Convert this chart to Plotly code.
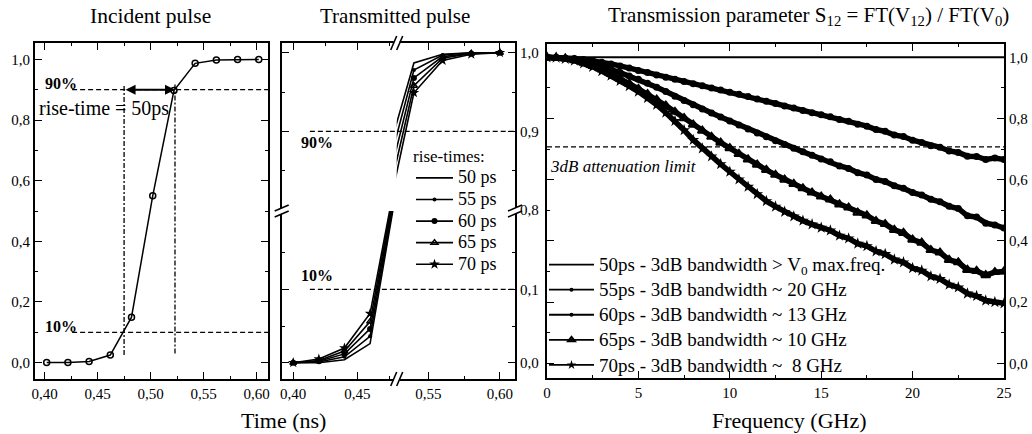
import plotly.graph_objects as go

W, H = 1032, 434
FONT = "Liberation Serif"

# ---------------- data ----------------
# Incident pulse (ns, normalized amplitude)
t_inc = [0.402, 0.422, 0.442, 0.462, 0.482, 0.502, 0.522, 0.542, 0.562, 0.582, 0.602]
v_inc = [0.000, 0.000, 0.004, 0.025, 0.150, 0.550, 0.897, 0.987, 0.998, 1.000, 1.000]
rise_lo, rise_hi = 0.475, 0.523
lvl10, lvl90 = 0.10, 0.90

# Transmitted pulses
t_tr = [0.40, 0.42, 0.44, 0.46, 0.48, 0.50, 0.52, 0.54, 0.56, 0.58, 0.60]
tr_50 = [0.000, 0.000, 0.004, 0.026, 0.230, 0.500, 0.860, 0.987, 0.998, 1.000, 1.000]
tr_55 = [0.000, 0.001, 0.008, 0.036, 0.235, 0.500, 0.840, 0.978, 0.997, 1.000, 1.000]
tr_60 = [0.000, 0.002, 0.012, 0.046, 0.240, 0.500, 0.820, 0.968, 0.995, 0.999, 1.000]
tr_65 = [0.000, 0.003, 0.016, 0.056, 0.245, 0.500, 0.800, 0.958, 0.993, 0.999, 1.000]
tr_70 = [0.000, 0.005, 0.020, 0.067, 0.250, 0.500, 0.780, 0.949, 0.990, 0.998, 1.000]

# Transmission parameter S12 (GHz)
f_ghz = [0.0, 0.5, 1.0, 1.5, 2.0, 2.5, 3.0, 3.5, 4.0, 4.5, 5.0, 5.5, 6.0, 6.5, 7.0, 7.5,
         8.0, 8.5, 9.0, 9.5, 10.0, 10.5, 11.0, 11.5, 12.0, 12.5, 13.0, 13.5, 14.0, 14.5,
         15.0, 15.5, 16.0, 16.5, 17.0, 17.5, 18.0, 18.5, 19.0, 19.5, 20.0, 20.5, 21.0,
         21.5, 22.0, 22.5, 23.0, 23.5, 24.0, 24.5, 25.0]
f_50 = [0.0, 25.0]
s_50 = [1.000, 1.000]
s_55 = [1.000, 1.000, 0.998, 0.996, 0.993, 0.989, 0.984, 0.978, 0.972, 0.965, 0.957, 0.950,
        0.942, 0.935, 0.928, 0.921, 0.914, 0.907, 0.900, 0.893, 0.886, 0.879, 0.872, 0.864,
        0.856, 0.849, 0.841, 0.834, 0.826, 0.819, 0.812, 0.806, 0.797, 0.791, 0.781, 0.775,
        0.764, 0.758, 0.746, 0.741, 0.729, 0.722, 0.711, 0.706, 0.694, 0.689, 0.677, 0.676,
        0.666, 0.671, 0.666]
s_60 = [1.000, 0.999, 0.997, 0.993, 0.987, 0.979, 0.970, 0.960, 0.950, 0.939, 0.928, 0.915,
        0.902, 0.888, 0.873, 0.859, 0.845, 0.831, 0.818, 0.805, 0.792, 0.779, 0.766, 0.753,
        0.740, 0.727, 0.715, 0.703, 0.691, 0.680, 0.668, 0.659, 0.645, 0.637, 0.623, 0.615,
        0.601, 0.594, 0.580, 0.572, 0.558, 0.550, 0.536, 0.528, 0.513, 0.506, 0.482, 0.478,
        0.458, 0.452, 0.442]
s_65 = [1.000, 0.999, 0.996, 0.990, 0.982, 0.972, 0.960, 0.946, 0.930, 0.914, 0.897, 0.880,
        0.862, 0.842, 0.822, 0.801, 0.780, 0.760, 0.740, 0.721, 0.703, 0.684, 0.666, 0.649,
        0.632, 0.616, 0.600, 0.586, 0.572, 0.558, 0.545, 0.535, 0.519, 0.509, 0.492, 0.483,
        0.465, 0.455, 0.436, 0.426, 0.404, 0.394, 0.370, 0.362, 0.338, 0.330, 0.305, 0.302,
        0.288, 0.298, 0.300]
s_70 = [1.000, 0.999, 0.995, 0.989, 0.980, 0.969, 0.955, 0.940, 0.923, 0.906, 0.888, 0.867,
        0.845, 0.819, 0.792, 0.762, 0.730, 0.702, 0.676, 0.651, 0.626, 0.601, 0.577, 0.553,
        0.530, 0.512, 0.495, 0.480, 0.466, 0.454, 0.443, 0.434, 0.417, 0.408, 0.391, 0.383,
        0.366, 0.357, 0.339, 0.330, 0.311, 0.303, 0.284, 0.276, 0.257, 0.248, 0.228, 0.220,
        0.205, 0.200, 0.196]
att_3db = 0.707

# tick labels
inc_xticks = [0.40, 0.45, 0.50, 0.55, 0.60]
inc_xlabels = ["0,40", "0,45", "0,50", "0,55", "0,60"]
inc_yticks = [0.0, 0.2, 0.4, 0.6, 0.8, 1.0]
inc_ylabels = ["0,0", "0,2", "0,4", "0,6", "0,8", "1,0"]
tr_xticks_lo, tr_xlabels_lo = [0.40, 0.45], ["0,40", "0,45"]
tr_xticks_hi, tr_xlabels_hi = [0.55, 0.60], ["0,55", "0,60"]
tr_yticks_lo, tr_ylabels_lo = [0.0, 0.1], ["0,0", "0,1"]
tr_yticks_hi, tr_ylabels_hi = [0.8, 0.9, 1.0], ["0,8", "0,9", "1,0"]
f_ticks = [0, 5, 10, 15, 20, 25]
f_labels = ["0", "5", "10", "15", "20", "25"]
s_ticks = [0.0, 0.2, 0.4, 0.6, 0.8, 1.0]
s_labels = ["0,0", "0,2", "0,4", "0,6", "0,8", "1,0"]


def px(x):
    return x / W


def py(y):
    return 1 - y / H


def big(s, size):
    return "<span style='font-size:%dpx'>%s</span>" % (size, s)


fig = go.Figure()

# ---------------- left panel ----------------
fig.add_trace(go.Scatter(
    x=t_inc, y=v_inc, xaxis="x", yaxis="y", mode="lines+markers", showlegend=False,
    line=dict(color="black", width=1.5),
    marker=dict(symbol="circle-open", size=6, color="black", line=dict(width=1.5))))

# ---------------- middle panel ----------------
tr_series = [
    ("50 ps", tr_50, "lines", None),
    ("55 ps", tr_55, "lines+markers", dict(symbol="circle", size=4)),
    ("60 ps", tr_60, "lines+markers", dict(symbol="circle", size=6)),
    ("65 ps", tr_65, "lines+markers", dict(symbol="triangle-up-open", size=6, line=dict(width=1.5))),
    ("70 ps", tr_70, "lines+markers", dict(symbol="star", size=8)),
]
for name, vals, md, mk in tr_series:
    for xa, ya, show in (("x2", "y2", True), ("x3", "y3", False)):
        kw = dict(x=t_tr, y=vals, xaxis=xa, yaxis=ya, name=big(name, 18), showlegend=show,
                  legend="legend", mode=md, line=dict(color="black", width=1.6))
        if mk is not None:
            m = dict(color="black")
            m.update(mk)
            kw["marker"] = m
        fig.add_trace(go.Scatter(**kw))

# helper traces so the mirrored broken-axis frames are drawn
for xa, ya in (("x5", "y3"), ("x6", "y3"), ("x2", "y5"), ("x2", "y6")):
    fig.add_trace(go.Scatter(x=[None], y=[None], xaxis=xa, yaxis=ya, mode="lines",
                             showlegend=False, hoverinfo="skip"))

# ---------------- right panel ----------------
s_series = [
    ("50ps - 3dB bandwidth > V<sub>0</sub> max.freq.", f_50, s_50, "lines", None, 2),
    ("55ps - 3dB bandwidth ~ 20 GHz", f_ghz, s_55, "lines+markers", dict(symbol="circle", size=7), 5.5),
    ("60ps - 3dB bandwidth ~ 13 GHz", f_ghz, s_60, "lines+markers", dict(symbol="circle", size=7), 5.5),
    ("65ps - 3dB bandwidth ~ 10 GHz", f_ghz, s_65, "lines+markers",
     dict(symbol="triangle-up-open", size=8, line=dict(width=2)), 5.5),
    ("70ps - 3dB bandwidth ~ \u00a08 GHz", f_ghz, s_70, "lines+markers", dict(symbol="star", size=9), 5.5),
]
legend_marker = {"circle": 4, "triangle-up-open": 6, "star": 7}
for name, fx, vals, md, mk, lw in s_series:
    kw = dict(x=fx, y=vals, xaxis="x4", yaxis="y4", mode=md, showlegend=False,
              line=dict(color="black", width=lw))
    lk = dict(x=[None], y=[None], xaxis="x4", yaxis="y4", mode=md, name=big(name, 19),
              legend="legend2", line=dict(color="black", width=1.8))
    if mk is not None:
        m = dict(color="black")
        m.update(mk)
        kw["marker"] = m
        lk["marker"] = dict(m, size=legend_marker[m["symbol"]])
    fig.add_trace(go.Scatter(**kw))
    fig.add_trace(go.Scatter(**lk))

# ---------------- axes ----------------
TICKFONT = dict(family=FONT, size=15, color="black")


def ax(domain, rng, **kw):
    d = dict(domain=domain, range=rng, showgrid=False, zeroline=False, showline=True,
             linecolor="black", linewidth=1.8, ticks="inside", ticklen=7, tickwidth=1.4,
             tickcolor="black", tickfont=TICKFONT, tickmode="array", fixedrange=True,
             automargin=False)
    d.update(kw)
    return d


def minor(vals, ln=3.5):
    return dict(ticks="inside", ticklen=ln, tickwidth=1.2, tickcolor="black",
                tickmode="array", tickvals=vals)


layout = dict(
    width=W, height=H, autosize=False,
    margin=dict(l=0, r=0, t=0, b=0, pad=0),
    paper_bgcolor="white", plot_bgcolor="rgba(0,0,0,0)",
    font=dict(family=FONT, color="black"),
)

# left
layout["xaxis"] = ax([px(35), px(268)], [0.391, 0.6107], anchor="y", mirror="ticks",
                     tickvals=inc_xticks, ticktext=inc_xlabels,
                     minor=minor([0.425, 0.475, 0.525, 0.575]))
layout["yaxis"] = ax([py(379), py(43)], [-0.054, 1.054], anchor="x", mirror="ticks",
                     tickvals=inc_yticks, ticktext=inc_ylabels,
                     minor=minor([0.1, 0.3, 0.5, 0.7, 0.9]))
# middle (broken axes)
xr_lo = [0.391, 0.4808]
xr_hi = [0.528, 0.6105]
yr_lo = [-0.0222, 0.2067]
yr_hi = [0.7989, 1.0123]
layout["xaxis2"] = ax([px(281.7), px(396.7)], xr_lo, anchor="y2",
                      tickvals=tr_xticks_lo, ticktext=tr_xlabels_lo, minor=minor([0.425, 0.475]))
layout["xaxis3"] = ax([px(396.7), px(515)], xr_hi, anchor="y2",
                      tickvals=tr_xticks_hi, ticktext=tr_xlabels_hi, minor=minor([0.575]))
layout["yaxis2"] = ax([py(379), py(211)], yr_lo, anchor="x3", side="right",
                      tickvals=tr_yticks_lo, ticktext=tr_ylabels_lo, minor=minor([0.05, 0.15]))
layout["yaxis3"] = ax([py(211), py(43)], yr_hi, anchor="x3", side="right",
                      tickvals=tr_yticks_hi, ticktext=tr_ylabels_hi, minor=minor([0.85, 0.95]))
layout["xaxis5"] = ax([px(281.7), px(396.7)], xr_lo, anchor="y3", side="top", overlaying="x2",
                      tickvals=tr_xticks_lo, showticklabels=False, minor=minor([0.425, 0.475]))
layout["xaxis6"] = ax([px(396.7), px(515)], xr_hi, anchor="y3", side="top", overlaying="x3",
                      tickvals=tr_xticks_hi, showticklabels=False, minor=minor([0.575]))
layout["yaxis5"] = ax([py(379), py(211)], yr_lo, anchor="x2", side="left", overlaying="y2",
                      tickvals=tr_yticks_lo, showticklabels=False, minor=minor([0.05, 0.15]))
layout["yaxis6"] = ax([py(211), py(43)], yr_hi, anchor="x2", side="left", overlaying="y3",
                      tickvals=tr_yticks_hi, showticklabels=False, minor=minor([0.85, 0.95]))
# right
layout["xaxis4"] = ax([px(547), px(1004)], [0, 25], anchor="y4", mirror="ticks",
                      tickvals=f_ticks, ticktext=f_labels,
                      minor=minor([2.5, 7.5, 12.5, 17.5, 22.5]))
layout["yaxis4"] = ax([py(378.3), py(44)], [-0.049, 1.0435], anchor="x4", side="right",
                      mirror="ticks", tickvals=s_ticks, ticktext=s_labels,
                      minor=minor([0.1, 0.3, 0.5, 0.7, 0.9]))

# legends
layout["legend"] = dict(x=px(411), y=py(140), xanchor="left", yanchor="top",
                        bgcolor="rgba(0,0,0,0)", borderwidth=0, tracegroupgap=0, itemwidth=37,
                        font=dict(family=FONT, size=14.3, color="black"),
                        title=dict(text="rise-times:", font=dict(family=FONT, size=17, color="black")))
layout["legend2"] = dict(x=px(544), y=py(247), xanchor="left", yanchor="top",
                         bgcolor="rgba(0,0,0,0)", borderwidth=0, tracegroupgap=0, itemwidth=45,
                         font=dict(family=FONT, size=17, color="black"))

fig.update_layout(**layout)

# ---------------- reference lines ----------------
DASH = "5px,3px"
DASHDOT = "5px,2px,2px,2px"
shapes = []
# left panel
for lv in (lvl90, lvl10):
    shapes.append(dict(type="line", xref="x", yref="y", x0=0.426, x1=0.6107, y0=lv, y1=lv,
                       line=dict(color="black", width=1.3, dash=DASH)))
shapes.append(dict(type="line", xref="x", yref="y", x0=rise_lo, x1=rise_lo, y0=0.025, y1=0.915,
                   line=dict(color="black", width=1.3, dash=DASHDOT)))
shapes.append(dict(type="line", xref="x", yref="y", x0=rise_hi, x1=rise_hi, y0=0.03, y1=0.92,
                   line=dict(color="black", width=1.3, dash=DASHDOT)))
# middle panel
shapes.append(dict(type="line", xref="x2", yref="y3", x0=0.413, x1=xr_lo[1], y0=lvl90, y1=lvl90,
                   line=dict(color="black", width=1.3, dash=DASH)))
shapes.append(dict(type="line", xref="x3", yref="y3", x0=xr_hi[0], x1=xr_hi[1], y0=lvl90, y1=lvl90,
                   line=dict(color="black", width=1.3, dash=DASH)))
shapes.append(dict(type="line", xref="x2", yref="y2", x0=0.413, x1=xr_lo[1], y0=lvl10, y1=lvl10,
                   line=dict(color="black", width=1.3, dash=DASH)))
shapes.append(dict(type="line", xref="x3", yref="y2", x0=xr_hi[0], x1=xr_hi[1], y0=lvl10, y1=lvl10,
                   line=dict(color="black", width=1.3, dash=DASH)))
# right panel 3dB line
shapes.append(dict(type="line", xref="x4", yref="y4", x0=0, x1=25, y0=att_3db, y1=att_3db,
                   line=dict(color="black", width=1.3, dash=DASH)))


# axis-break marks (paper coordinates)
def brk_x(cx, cy):
    out = [dict(type="rect", xref="paper", yref="paper", x0=px(cx - 3), x1=px(cx + 3),
                y0=py(cy + 3), y1=py(cy - 3), line=dict(width=0), fillcolor="white")]
    for dx in (-3, 3):
        out.append(dict(type="line", xref="paper", yref="paper",
                        x0=px(cx + dx - 3), y0=py(cy + 7), x1=px(cx + dx + 3), y1=py(cy - 7),
                        line=dict(color="black", width=1.6)))
    return out


def brk_y(cx, cy):
    out = [dict(type="rect", xref="paper", yref="paper", x0=px(cx - 3), x1=px(cx + 3),
                y0=py(cy + 3), y1=py(cy - 3), line=dict(width=0), fillcolor="white")]
    for dy in (-3, 3):
        out.append(dict(type="line", xref="paper", yref="paper",
                        x0=px(cx - 7), y0=py(cy + dy + 3), x1=px(cx + 7), y1=py(cy + dy - 3),
                        line=dict(color="black", width=1.6)))
    return out


shapes += brk_x(396.7, 379) + brk_x(396.7, 43) + brk_y(281.7, 211) + brk_y(515, 211)
fig.update_layout(shapes=shapes)

# ---------------- annotations ----------------
ann = []


def txt(x, y, s, size, xanchor="center", **kw):
    ann.append(dict(x=px(x), y=py(y), xref="paper", yref="paper", text=s, showarrow=False,
                    xanchor=xanchor, yanchor="middle",
                    font=dict(family=FONT, size=size, color="black"), **kw))


txt(150, 16, "Incident pulse", 21.5)
txt(395, 16, "Transmitted pulse", 21)
txt(808, 16, "Transmission parameter S<sub>12</sub> = FT(V<sub>12</sub>) / FT(V<sub>0</sub>)", 21)
txt(283, 420, "Time (ns)", 22)
txt(789, 420, "Frequency (GHz)", 22)
txt(61, 83, "<b>90%</b>", 16)
txt(61, 326, "<b>10%</b>", 16)
txt(317, 143, "<b>90%</b>", 16)
txt(317, 275, "<b>10%</b>", 16)
txt(37, 109, "rise-time = 50ps", 20, xanchor="left")
txt(548, 166, "<i>3dB attenuation limit</i>", 17, xanchor="left")
# double-headed rise-time arrow
ann.append(dict(x=rise_hi, y=lvl90, ax=rise_lo, ay=lvl90, xref="x", yref="y", axref="x", ayref="y",
                text="", showarrow=True, arrowhead=2, arrowside="end+start", arrowsize=1,
                arrowwidth=2, arrowcolor="black"))
fig.update_layout(annotations=ann)

fig.write_html("out.html", config={"displayModeBar": False},
               post_script="document.body.style.margin='0';document.body.style.overflow='hidden';")
